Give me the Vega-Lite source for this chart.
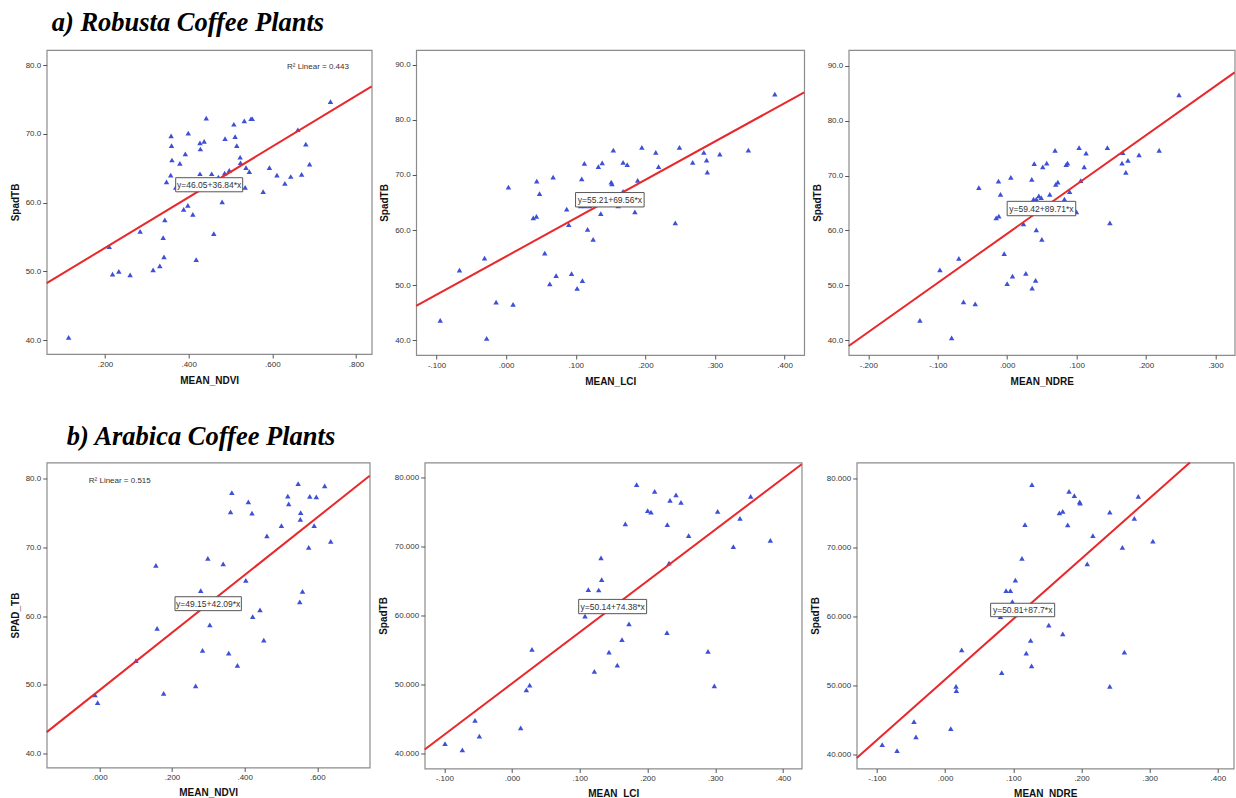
{
  "$schema": "https://vega.github.io/schema/vega-lite/v6.json",
  "background": "white",
  "padding": {"left": 8.7, "top": 9, "right": 0, "bottom": 0},
  "bounds": "flush",
  "spacing": 412.5,
  "config": {
    "view": {"stroke": "#8c8c8c", "strokeWidth": 1.2},
    "axis": {
      "grid": false, "domain": false, "tickColor": "#555555", "tickSize": 4, "labelPadding": 2,
      "labelFont": "Liberation Sans", "labelFontSize": 8, "labelColor": "#333333",
      "titleFont": "Liberation Sans", "titleFontSize": 10, "titleFontWeight": "bold", "titleColor": "#111111"
    },
    "axisX": {"minExtent": 14, "maxExtent": 14, "titlePadding": 7, "labelExpr": "replace(replace(format(datum.value, '.3f'), '0.', '.'), '\u2212', '-')"},
    "axisY": {"minExtent": 22, "maxExtent": 22, "titlePadding": 4.5, "labelExpr": "format(datum.value, '.1f')"}
  },
  "datasets": {
    "a_ndvi": [
      {"x":0.113,"y":40.4},{"x":0.210,"y":53.6},{"x":0.218,"y":49.6},{"x":0.233,"y":50.0},{"x":0.260,"y":49.5},{"x":0.284,"y":55.8},{"x":0.315,"y":50.2},{"x":0.331,"y":50.8},{"x":0.339,"y":54.9},{"x":0.341,"y":52.1},{"x":0.343,"y":57.5},{"x":0.347,"y":63.0},{"x":0.357,"y":64.0},{"x":0.358,"y":69.7},{"x":0.359,"y":68.3},{"x":0.360,"y":66.2},{"x":0.369,"y":62.2},{"x":0.379,"y":65.7},{"x":0.388,"y":59.0},{"x":0.392,"y":67.1},{"x":0.398,"y":59.6},{"x":0.399,"y":70.1},{"x":0.410,"y":58.3},{"x":0.418,"y":51.7},{"x":0.427,"y":64.2},{"x":0.427,"y":68.7},{"x":0.428,"y":67.8},{"x":0.437,"y":68.9},{"x":0.442,"y":72.3},{"x":0.455,"y":64.2},{"x":0.460,"y":55.5},{"x":0.471,"y":63.7},{"x":0.480,"y":60.1},{"x":0.486,"y":64.3},{"x":0.487,"y":69.3},{"x":0.497,"y":64.7},{"x":0.508,"y":71.4},{"x":0.511,"y":69.6},{"x":0.515,"y":68.3},{"x":0.523,"y":66.6},{"x":0.524,"y":65.8},{"x":0.533,"y":71.9},{"x":0.535,"y":62.2},{"x":0.537,"y":65.1},{"x":0.545,"y":64.5},{"x":0.549,"y":72.2},{"x":0.552,"y":72.2},{"x":0.578,"y":61.6},{"x":0.593,"y":65.1},{"x":0.611,"y":64.0},{"x":0.630,"y":62.8},{"x":0.644,"y":63.8},{"x":0.661,"y":70.6},{"x":0.670,"y":64.1},{"x":0.680,"y":68.5},{"x":0.689,"y":65.6},{"x":0.739,"y":74.7}
    ],
    "a_ndvi_fit": [{"x":0.0606,"y":48.28},{"x":0.8375,"y":76.90}],
    "a_lci": [
      {"x":-0.0947,"y":43.6},{"x":-0.067,"y":52.7},{"x":-0.031,"y":54.9},{"x":-0.028,"y":40.3},{"x":-0.0144,"y":46.9},{"x":0.0033,"y":67.8},{"x":0.010,"y":46.5},{"x":0.039,"y":62.2},{"x":0.0435,"y":62.5},{"x":0.044,"y":68.9},{"x":0.048,"y":66.6},{"x":0.0555,"y":55.8},{"x":0.0627,"y":50.2},{"x":0.0675,"y":69.6},{"x":0.0718,"y":51.7},{"x":0.087,"y":63.8},{"x":0.090,"y":61.0},{"x":0.094,"y":52.1},{"x":0.102,"y":49.4},{"x":0.107,"y":64.4},{"x":0.1086,"y":69.3},{"x":0.1096,"y":50.8},{"x":0.1124,"y":72.1},{"x":0.113,"y":64.4},{"x":0.117,"y":60.1},{"x":0.120,"y":64.4},{"x":0.125,"y":58.3},{"x":0.1325,"y":71.5},{"x":0.136,"y":63.0},{"x":0.138,"y":72.2},{"x":0.151,"y":68.7},{"x":0.152,"y":68.4},{"x":0.154,"y":74.5},{"x":0.161,"y":64.4},{"x":0.168,"y":67.0},{"x":0.168,"y":72.3},{"x":0.174,"y":71.9},{"x":0.185,"y":63.3},{"x":0.189,"y":69.0},{"x":0.195,"y":75.0},{"x":0.215,"y":74.1},{"x":0.219,"y":71.5},{"x":0.243,"y":61.3},{"x":0.249,"y":75.0},{"x":0.268,"y":72.3},{"x":0.284,"y":74.1},{"x":0.288,"y":72.7},{"x":0.289,"y":70.5},{"x":0.307,"y":73.8},{"x":0.348,"y":74.5},{"x":0.386,"y":84.7}
    ],
    "a_lci_fit": [{"x":-0.1292,"y":46.22},{"x":0.4282,"y":85.00}],
    "a_ndre": [
      {"x":-0.1257,"y":43.6},{"x":-0.0969,"y":52.8},{"x":-0.080,"y":40.4},{"x":-0.0696,"y":54.9},{"x":-0.0629,"y":47.0},{"x":-0.046,"y":46.6},{"x":-0.0408,"y":67.8},{"x":-0.0158,"y":62.3},{"x":-0.0125,"y":69.0},{"x":-0.012,"y":62.6},{"x":-0.0096,"y":66.6},{"x":-0.0043,"y":55.8},{"x":0.0,"y":50.3},{"x":0.0053,"y":69.7},{"x":0.0077,"y":51.7},{"x":0.0235,"y":61.2},{"x":0.0269,"y":52.2},{"x":0.0355,"y":69.3},{"x":0.036,"y":49.5},{"x":0.038,"y":65.7},{"x":0.039,"y":72.2},{"x":0.041,"y":50.9},{"x":0.042,"y":65.7},{"x":0.042,"y":60.1},{"x":0.0456,"y":66.3},{"x":0.049,"y":66.0},{"x":0.050,"y":58.4},{"x":0.0513,"y":71.6},{"x":0.057,"y":72.3},{"x":0.0614,"y":66.6},{"x":0.0648,"y":63.1},{"x":0.069,"y":74.6},{"x":0.070,"y":68.4},{"x":0.073,"y":68.8},{"x":0.0825,"y":65.7},{"x":0.085,"y":72.0},{"x":0.087,"y":72.3},{"x":0.090,"y":67.1},{"x":0.0998,"y":63.4},{"x":0.1036,"y":75.1},{"x":0.106,"y":69.1},{"x":0.111,"y":71.6},{"x":0.1137,"y":74.1},{"x":0.1444,"y":75.1},{"x":0.148,"y":61.4},{"x":0.1655,"y":72.3},{"x":0.1665,"y":74.2},{"x":0.171,"y":70.6},{"x":0.174,"y":72.8},{"x":0.190,"y":73.8},{"x":0.219,"y":74.6},{"x":0.2476,"y":84.7}
    ],
    "a_ndre_fit": [{"x":-0.2283,"y":38.94},{"x":0.3278,"y":88.83}],
    "b_ndvi": [
      {"x":-0.0119,"y":48.5},{"x":-0.0046,"y":47.35},{"x":0.1008,"y":53.5},{"x":0.1557,"y":67.4},{"x":0.159,"y":58.2},{"x":0.177,"y":48.7},{"x":0.265,"y":49.8},{"x":0.279,"y":63.7},{"x":0.284,"y":55.0},{"x":0.2986,"y":68.4},{"x":0.304,"y":58.7},{"x":0.3408,"y":67.6},{"x":0.356,"y":54.6},{"x":0.361,"y":75.2},{"x":0.3646,"y":78.0},{"x":0.380,"y":52.8},{"x":0.403,"y":65.2},{"x":0.410,"y":76.65},{"x":0.420,"y":75.0},{"x":0.422,"y":59.9},{"x":0.442,"y":60.9},{"x":0.4525,"y":56.5},{"x":0.461,"y":71.7},{"x":0.501,"y":73.2},{"x":0.5185,"y":77.5},{"x":0.521,"y":76.35},{"x":0.547,"y":79.3},{"x":0.5514,"y":62.05},{"x":0.553,"y":74.1},{"x":0.554,"y":75.1},{"x":0.559,"y":63.6},{"x":0.576,"y":70.0},{"x":0.579,"y":77.45},{"x":0.591,"y":73.2},{"x":0.597,"y":77.4},{"x":0.620,"y":79.0},{"x":0.6366,"y":70.9}
    ],
    "b_ndvi_fit": [{"x":-0.1447,"y":43.06},{"x":0.7438,"y":80.46}],
    "b_lci": [
      {"x":-0.0989,"y":41.4},{"x":-0.0733,"y":40.5},{"x":-0.0546,"y":44.8},{"x":-0.0482,"y":42.5},{"x":0.0128,"y":43.7},{"x":0.0212,"y":49.2},{"x":0.0261,"y":49.9},{"x":0.0295,"y":55.1},{"x":0.1078,"y":59.9},{"x":0.1127,"y":63.75},{"x":0.1216,"y":51.9},{"x":0.128,"y":63.7},{"x":0.1314,"y":68.35},{"x":0.1324,"y":65.2},{"x":0.1432,"y":54.7},{"x":0.1555,"y":52.8},{"x":0.1624,"y":56.5},{"x":0.1673,"y":73.3},{"x":0.1727,"y":58.8},{"x":0.184,"y":79.0},{"x":0.2003,"y":75.2},{"x":0.2052,"y":75.0},{"x":0.2106,"y":78.0},{"x":0.2288,"y":57.5},{"x":0.2293,"y":73.2},{"x":0.2318,"y":67.6},{"x":0.2333,"y":76.7},{"x":0.2421,"y":77.5},{"x":0.2495,"y":76.4},{"x":0.2608,"y":71.6},{"x":0.2894,"y":54.8},{"x":0.2987,"y":49.8},{"x":0.3036,"y":75.1},{"x":0.3268,"y":70.0},{"x":0.3366,"y":74.1},{"x":0.3524,"y":77.3},{"x":0.3814,"y":70.9}
    ],
    "b_lci_fit": [{"x":-0.1289,"y":40.55},{"x":0.4277,"y":81.95}],
    "b_ndre": [
      {"x":-0.0923,"y":41.35},{"x":-0.0705,"y":40.5},{"x":-0.0457,"y":44.7},{"x":-0.0428,"y":42.5},{"x":0.0083,"y":43.7},{"x":0.016,"y":49.8},{"x":0.0165,"y":49.2},{"x":0.0243,"y":55.1},{"x":0.0811,"y":59.95},{"x":0.083,"y":51.8},{"x":0.0894,"y":63.7},{"x":0.0957,"y":63.7},{"x":0.0986,"y":62.1},{"x":0.103,"y":65.25},{"x":0.1127,"y":68.4},{"x":0.1171,"y":73.3},{"x":0.119,"y":54.65},{"x":0.1254,"y":56.5},{"x":0.1268,"y":52.8},{"x":0.1273,"y":79.1},{"x":0.152,"y":58.7},{"x":0.1676,"y":75.0},{"x":0.1725,"y":75.2},{"x":0.1725,"y":57.45},{"x":0.1798,"y":73.25},{"x":0.1817,"y":78.1},{"x":0.1895,"y":77.5},{"x":0.1973,"y":76.6},{"x":0.198,"y":76.4},{"x":0.2084,"y":67.6},{"x":0.2167,"y":71.7},{"x":0.2415,"y":75.1},{"x":0.2415,"y":49.8},{"x":0.26,"y":70.0},{"x":0.2629,"y":54.8},{"x":0.2775,"y":74.2},{"x":0.2833,"y":77.4},{"x":0.3047,"y":70.9}
    ],
    "b_ndre_fit": [{"x":-0.1297,"y":39.44},{"x":0.359,"y":82.29}],
    "one": [{"k": 1}]
  },
  "vconcat": [
    {
      "title": {"text": "a) Robusta Coffee Plants", "anchor": "start", "frame": "group", "font": "Liberation Serif", "fontSize": 26.5, "fontStyle": "italic", "fontWeight": "bold", "color": "#000000", "baseline": "alphabetic", "offset": -8, "dx": 5},
      "bounds": "flush",
      "spacing": 44.5,
      "hconcat": [
        {
          "width": 325, "height": 304,
          "layer": [
            {"data": {"name": "a_ndvi"}, "mark": {"type": "point", "shape": "triangle-up", "filled": true, "color": "#3d50d6", "size": 30, "opacity": 1},
             "encoding": {
              "x": {"field": "x", "type": "quantitative", "title": "MEAN_NDVI", "scale": {"domain": [0.0606, 0.8375], "nice": false, "zero": false}, "axis": {"values": [0.2, 0.4, 0.6, 0.8]}},
              "y": {"field": "y", "type": "quantitative", "title": "SpadTB", "scale": {"domain": [37.98, 82.2], "nice": false, "zero": false}, "axis": {"values": [40, 50, 60, 70, 80]}}
             }},
            {"data": {"name": "a_ndvi_fit"}, "mark": {"type": "line", "color": "#e8282b", "strokeWidth": 2}, "encoding": {"x": {"field": "x", "type": "quantitative"}, "y": {"field": "y", "type": "quantitative"}}},
            {"data": {"name": "one"}, "mark": {"type": "point", "shape": "M-1,-0.21H1V0.21H-1Z", "filled": true, "fill": "white", "stroke": "#555555", "strokeWidth": 1, "size": 4489, "opacity": 1}, "encoding": {"x": {"datum": 0.449}, "y": {"datum": 62.6}}},
            {"data": {"name": "one"}, "mark": {"type": "text", "font": "Liberation Sans", "fontSize": 8.5, "color": "#333333", "align": "center", "baseline": "middle"}, "encoding": {"x": {"datum": 0.449}, "y": {"datum": 62.6}, "text": {"value": "y=46.05+36.84*x"}}},
            {"data": {"name": "one"}, "mark": {"type": "text", "font": "Liberation Sans", "fontSize": 8, "color": "#333333", "align": "center", "baseline": "middle"}, "encoding": {"x": {"datum": 0.709}, "y": {"datum": 79.8}, "text": {"value": "R\u00b2 Linear = 0.443"}}}
          ]
        },
        {
          "width": 388, "height": 305,
          "layer": [
            {"data": {"name": "a_lci"}, "mark": {"type": "point", "shape": "triangle-up", "filled": true, "color": "#3d50d6", "size": 30, "opacity": 1},
             "encoding": {
              "x": {"field": "x", "type": "quantitative", "title": "MEAN_LCI", "scale": {"domain": [-0.1292, 0.4282], "nice": false, "zero": false}, "axis": {"values": [-0.1, 0, 0.1, 0.2, 0.3, 0.4]}},
              "y": {"field": "y", "type": "quantitative", "title": "SpadTB", "scale": {"domain": [37.3, 92.7], "nice": false, "zero": false}, "axis": {"values": [40, 50, 60, 70, 80, 90]}}
             }},
            {"data": {"name": "a_lci_fit"}, "mark": {"type": "line", "color": "#e8282b", "strokeWidth": 2}, "encoding": {"x": {"field": "x", "type": "quantitative"}, "y": {"field": "y", "type": "quantitative"}}},
            {"data": {"name": "one"}, "mark": {"type": "point", "shape": "M-1,-0.21H1V0.21H-1Z", "filled": true, "fill": "white", "stroke": "#555555", "strokeWidth": 1, "size": 4700, "opacity": 1}, "encoding": {"x": {"datum": 0.149}, "y": {"datum": 65.5}}},
            {"data": {"name": "one"}, "mark": {"type": "text", "font": "Liberation Sans", "fontSize": 8.5, "color": "#333333", "align": "center", "baseline": "middle"}, "encoding": {"x": {"datum": 0.149}, "y": {"datum": 65.5}, "text": {"value": "y=55.21+69.56*x"}}}
          ]
        },
        {
          "width": 386, "height": 305,
          "layer": [
            {"data": {"name": "a_ndre"}, "mark": {"type": "point", "shape": "triangle-up", "filled": true, "color": "#3d50d6", "size": 30, "opacity": 1},
             "encoding": {
              "x": {"field": "x", "type": "quantitative", "title": "MEAN_NDRE", "scale": {"domain": [-0.2283, 0.3278], "nice": false, "zero": false}, "axis": {"values": [-0.2, -0.1, 0, 0.1, 0.2, 0.3]}},
              "y": {"field": "y", "type": "quantitative", "title": "SpadTB", "scale": {"domain": [37.3, 92.9], "nice": false, "zero": false}, "axis": {"values": [40, 50, 60, 70, 80, 90]}}
             }},
            {"data": {"name": "a_ndre_fit"}, "mark": {"type": "line", "color": "#e8282b", "strokeWidth": 2}, "encoding": {"x": {"field": "x", "type": "quantitative"}, "y": {"field": "y", "type": "quantitative"}}},
            {"data": {"name": "one"}, "mark": {"type": "point", "shape": "M-1,-0.21H1V0.21H-1Z", "filled": true, "fill": "white", "stroke": "#555555", "strokeWidth": 1, "size": 4700, "opacity": 1}, "encoding": {"x": {"datum": 0.0494}, "y": {"datum": 64.0}}},
            {"data": {"name": "one"}, "mark": {"type": "text", "font": "Liberation Sans", "fontSize": 8.5, "color": "#333333", "align": "center", "baseline": "middle"}, "encoding": {"x": {"datum": 0.0494}, "y": {"datum": 64.0}, "text": {"value": "y=59.42+89.71*x"}}}
          ]
        }
      ]
    },
    {
      "title": {"text": "b) Arabica Coffee Plants", "anchor": "start", "frame": "group", "font": "Liberation Serif", "fontSize": 26.5, "fontStyle": "italic", "fontWeight": "bold", "color": "#000000", "baseline": "alphabetic", "offset": -14, "dx": 20},
      "bounds": "flush",
      "spacing": 55,
      "hconcat": [
        {
          "width": 323, "height": 305,
          "layer": [
            {"data": {"name": "b_ndvi"}, "mark": {"type": "point", "shape": "triangle-up", "filled": true, "color": "#3d50d6", "size": 30, "opacity": 1},
             "encoding": {
              "x": {"field": "x", "type": "quantitative", "title": "MEAN_NDVI", "scale": {"domain": [-0.1447, 0.7438], "nice": false, "zero": false}, "axis": {"values": [0, 0.2, 0.4, 0.6], "titlePadding": 6}},
              "y": {"field": "y", "type": "quantitative", "title": "SPAD_TB", "scale": {"domain": [37.9, 82.4], "nice": false, "zero": false}, "axis": {"values": [40, 50, 60, 70, 80]}}
             }},
            {"data": {"name": "b_ndvi_fit"}, "mark": {"type": "line", "color": "#e8282b", "strokeWidth": 2}, "encoding": {"x": {"field": "x", "type": "quantitative"}, "y": {"field": "y", "type": "quantitative"}}},
            {"data": {"name": "one"}, "mark": {"type": "point", "shape": "M-1,-0.21H1V0.21H-1Z", "filled": true, "fill": "white", "stroke": "#555555", "strokeWidth": 1, "size": 4400, "opacity": 1}, "encoding": {"x": {"datum": 0.2995}, "y": {"datum": 61.8}}},
            {"data": {"name": "one"}, "mark": {"type": "text", "font": "Liberation Sans", "fontSize": 8.5, "color": "#333333", "align": "center", "baseline": "middle"}, "encoding": {"x": {"datum": 0.2995}, "y": {"datum": 61.8}, "text": {"value": "y=49.15+42.09*x"}}},
            {"data": {"name": "one"}, "mark": {"type": "text", "font": "Liberation Sans", "fontSize": 8, "color": "#333333", "align": "center", "baseline": "middle"}, "encoding": {"x": {"datum": 0.0563}, "y": {"datum": 79.7}, "text": {"value": "R\u00b2 Linear = 0.515"}}}
          ]
        },
        {
          "width": 377, "height": 306,
          "layer": [
            {"data": {"name": "b_lci"}, "mark": {"type": "point", "shape": "triangle-up", "filled": true, "color": "#3d50d6", "size": 30, "opacity": 1},
             "encoding": {
              "x": {"field": "x", "type": "quantitative", "title": "MEAN_LCI", "scale": {"domain": [-0.1289, 0.4277], "nice": false, "zero": false}, "axis": {"values": [-0.1, 0, 0.1, 0.2, 0.3, 0.4], "titlePadding": 6}},
              "y": {"field": "y", "type": "quantitative", "title": "SpadTB", "scale": {"domain": [37.8, 82.2], "nice": false, "zero": false}, "axis": {"values": [40, 50, 60, 70, 80], "labelExpr": "format(datum.value, '.3f')", "minExtent": 31, "maxExtent": 31, "titlePadding": 5}}
             }},
            {"data": {"name": "b_lci_fit"}, "mark": {"type": "line", "color": "#e8282b", "strokeWidth": 2}, "encoding": {"x": {"field": "x", "type": "quantitative"}, "y": {"field": "y", "type": "quantitative"}}},
            {"data": {"name": "one"}, "mark": {"type": "point", "shape": "M-1,-0.21H1V0.21H-1Z", "filled": true, "fill": "white", "stroke": "#555555", "strokeWidth": 1, "size": 4620, "opacity": 1}, "encoding": {"x": {"datum": 0.1486}, "y": {"datum": 61.3}}},
            {"data": {"name": "one"}, "mark": {"type": "text", "font": "Liberation Sans", "fontSize": 8.5, "color": "#333333", "align": "center", "baseline": "middle"}, "encoding": {"x": {"datum": 0.1486}, "y": {"datum": 61.3}, "text": {"value": "y=50.14+74.38*x"}}}
          ]
        },
        {
          "width": 377, "height": 306,
          "layer": [
            {"data": {"name": "b_ndre"}, "mark": {"type": "point", "shape": "triangle-up", "filled": true, "color": "#3d50d6", "size": 30, "opacity": 1},
             "encoding": {
              "x": {"field": "x", "type": "quantitative", "title": "MEAN_NDRE", "scale": {"domain": [-0.1297, 0.4232], "nice": false, "zero": false}, "axis": {"values": [-0.1, 0, 0.1, 0.2, 0.3, 0.4], "titlePadding": 6}},
              "y": {"field": "y", "type": "quantitative", "title": "SpadTB", "scale": {"domain": [37.9, 82.3], "nice": false, "zero": false}, "axis": {"values": [40, 50, 60, 70, 80], "labelExpr": "format(datum.value, '.3f')", "minExtent": 31, "maxExtent": 31, "titlePadding": 5}}
             }},
            {"data": {"name": "b_ndre_fit"}, "mark": {"type": "line", "color": "#e8282b", "strokeWidth": 2}, "encoding": {"x": {"field": "x", "type": "quantitative"}, "y": {"field": "y", "type": "quantitative"}}},
            {"data": {"name": "one"}, "mark": {"type": "point", "shape": "M-1,-0.21H1V0.21H-1Z", "filled": true, "fill": "white", "stroke": "#555555", "strokeWidth": 1, "size": 4100, "opacity": 1}, "encoding": {"x": {"datum": 0.1137}, "y": {"datum": 60.9}}},
            {"data": {"name": "one"}, "mark": {"type": "text", "font": "Liberation Sans", "fontSize": 8.5, "color": "#333333", "align": "center", "baseline": "middle"}, "encoding": {"x": {"datum": 0.1137}, "y": {"datum": 60.9}, "text": {"value": "y=50.81+87.7*x"}}}
          ]
        }
      ]
    }
  ]
}
